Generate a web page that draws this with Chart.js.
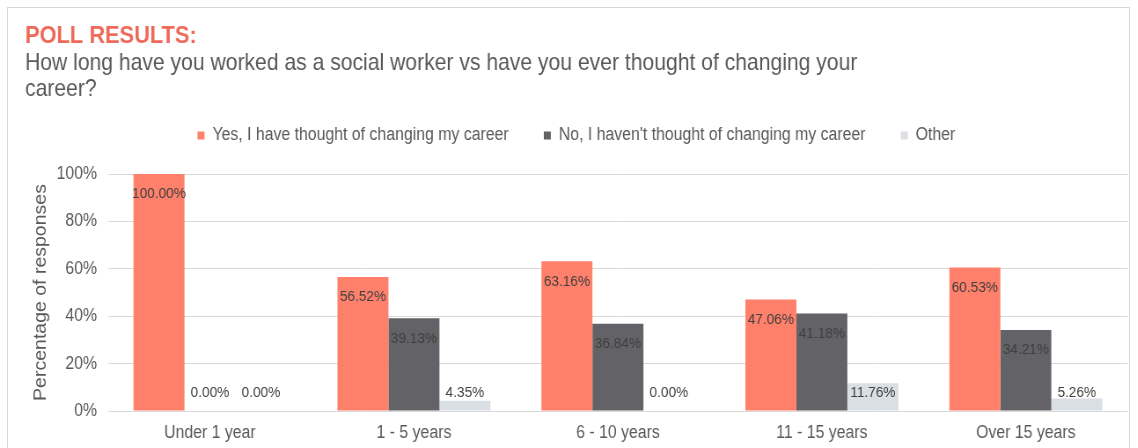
<!DOCTYPE html>
<html>
<head>
<meta charset="utf-8">
<script src="https://cdn.jsdelivr.net/npm/chart.js@4.4.1/dist/chart.umd.min.js"></script>
<style>
  html, body { margin: 0; padding: 0; background: #ffffff; overflow: hidden; }
  #frame { position: absolute; left: 7px; top: 7px; width: 1123px; height: 500px; border: 1px solid #d9d9d9; border-bottom: none; box-sizing: border-box; }
  #wrap { position: absolute; left: 0; top: 0; width: 1138px; height: 448px; overflow: hidden; }
  #c { position: absolute; left: 0; top: 0; transform-origin: 0 0; transform: scaleX(0.88); }
</style>
</head>
<body>
<div id="frame"></div>
<div id="wrap"><canvas id="c" width="1293" height="448"></canvas></div>
<script>
const categories = ['Under 1 year', '1 - 5 years', '6 - 10 years', '11 - 15 years', 'Over 15 years'];
const yesValues = [100.00, 56.52, 63.16, 47.06, 60.53];
const noValues = [0.00, 39.13, 36.84, 41.18, 34.21];
const otherValues = [0.00, 4.35, 0.00, 11.76, 5.26];
const seriesNames = ['Yes, I have thought of changing my career', "No, I haven't thought of changing my career", 'Other'];
const yTickValues = [0, 20, 40, 60, 80, 100];
const titleText = 'POLL RESULTS:';
const subtitleLines = ['How long have you worked as a social worker vs have you ever thought of changing your', 'career?'];
const yAxisTitle = 'Percentage of responses';

const FONT = '"Liberation Sans", Arial, sans-serif';

const dataLabels = {
  id: 'dataLabels',
  afterDatasetsDraw(chart) {
    const ctx = chart.ctx;
    ctx.save();
    ctx.font = '15.5px ' + FONT;
    ctx.fillStyle = '#404040';
    ctx.textAlign = 'center';
    ctx.textBaseline = 'middle';
    chart.data.datasets.forEach((ds, di) => {
      const meta = chart.getDatasetMeta(di);
      meta.data.forEach((bar, i) => {
        const v = ds.data[i];
        const y = Math.min(bar.y + 20, bar.base - 18);
        ctx.fillText(v.toFixed(2) + '%', bar.x, y);
      });
    });
    ctx.restore();
  }
};

new Chart(document.getElementById('c'), {
  type: 'bar',
  data: {
    labels: categories,
    datasets: [
      { label: seriesNames[0], data: yesValues, backgroundColor: '#FF806B' },
      { label: seriesNames[1], data: noValues, backgroundColor: '#636367' },
      { label: seriesNames[2], data: otherValues, backgroundColor: '#D9DFE4' }
    ]
  },
  options: {
    responsive: false,
    animation: false,
    devicePixelRatio: 1,
    layout: { padding: { left: 28.4, right: 11.4, top: 0, bottom: 0 } },
    datasets: { bar: { barPercentage: 1.0, categoryPercentage: 0.75 } },
    plugins: {
      title: {
        display: true, text: titleText, align: 'start', color: '#EE6A5B',
        font: { family: FONT, size: 24.8, weight: 'bold', lineHeight: '26px' },
        padding: { top: 23.5, bottom: 0 }
      },
      subtitle: {
        display: true, text: subtitleLines, align: 'start', color: '#595959',
        font: { family: FONT, size: 24, weight: 'normal', lineHeight: '26px' },
        padding: { top: 1, bottom: -16 }
      },
      legend: {
        display: true, position: 'top', align: 'center',
        labels: {
          boxWidth: 8, boxHeight: 8, padding: 40, color: '#595959',
          font: { family: FONT, size: 18 }
        }
      },
      tooltip: { enabled: false }
    },
    scales: {
      x: {
        grid: { display: false, drawTicks: false },
        border: { display: false },
        ticks: { color: '#595959', padding: 11.2, font: { family: FONT, size: 18 } },
        afterFit(s) { s.height = 37; }
      },
      xGap: {
        type: 'category', position: 'top', display: true,
        grid: { display: false, drawTicks: false }, border: { display: false },
        ticks: { display: false },
        afterFit(s) { s.height = 19.5; }
      },
      y: {
        min: 0, max: 100,
        afterBuildTicks(s) { s.ticks = yTickValues.map(v => ({ value: v })); },
        afterFit(s) { s.width = 94.3; },
        grid: { color: '#D9D9D9', lineWidth: 1, drawTicks: false },
        border: { display: false },
        ticks: { color: '#595959', padding: 12.5, font: { family: FONT, size: 18 }, callback: v => v + '%' },
        title: { display: true, text: yAxisTitle, color: '#595959', font: { family: FONT, size: 19.5 }, padding: { top: 6.5, bottom: 0 } }
      }
    }
  },
  plugins: [dataLabels]
});
</script>
</body>
</html>
